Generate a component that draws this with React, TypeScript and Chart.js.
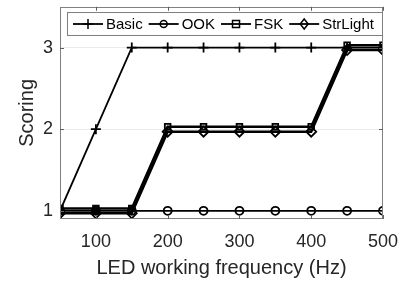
import React, { useEffect, useRef } from "react";
import { Chart, registerables } from "chart.js";

Chart.register(...registerables);

const freqs = [50, 100, 150, 200, 250, 300, 350, 400, 450, 500];
const basic = [1, 2, 3, 3, 3, 3, 3, 3, 3, 3];
const ook = [1, 1, 1, 1, 1, 1, 1, 1, 1, 1];
const fsk = [1.03, 1.03, 1.03, 2.03, 2.03, 2.03, 2.03, 2.03, 3.03, 3.03];
const strLight = [0.97, 0.97, 0.97, 1.97, 1.97, 1.97, 1.97, 1.97, 2.97, 2.97];
const seriesNames = ["Basic", "OOK", "FSK", "StrLight"];
const xTicks = [100, 200, 300, 400, 500];
const yTicks = [1, 2, 3];

const FONT = "'Liberation Sans', Arial, Helvetica, sans-serif";
const BOX = "#808080";

function drawMarker(ctx: CanvasRenderingContext2D, style: string, x: number, y: number, r: number) {
  ctx.beginPath();
  if (style === "cross") {
    ctx.moveTo(x - r, y); ctx.lineTo(x + r, y);
    ctx.moveTo(x, y - r); ctx.lineTo(x, y + r);
  } else if (style === "circle") {
    ctx.arc(x, y, r, 0, Math.PI * 2);
  } else if (style === "rect") {
    ctx.rect(x - r, y - r, 2 * r, 2 * r);
  } else if (style === "rectRot") {
    ctx.moveTo(x, y - r); ctx.lineTo(x + r * 0.8, y); ctx.lineTo(x, y + r); ctx.lineTo(x - r * 0.8, y); ctx.closePath();
  }
  ctx.stroke();
}

const frame = {
  id: "frame",
  afterDatasetsDraw(chart: any) {
    const { ctx, chartArea: a, scales } = chart;
    ctx.save();
    ctx.strokeStyle = BOX;
    ctx.lineWidth = 1;
    ctx.strokeRect(Math.round(a.left) + 0.5, Math.round(a.top) + 0.5, Math.round(a.right - a.left) - 1, Math.round(a.bottom - a.top) - 1);
    ctx.strokeStyle = "#606060";
    ctx.beginPath();
    for (const v of xTicks) {
      const px = Math.round(scales.x.getPixelForValue(v)) + 0.5;
      ctx.moveTo(px, a.bottom); ctx.lineTo(px, a.bottom - 4);
      ctx.moveTo(px, a.top); ctx.lineTo(px, a.top + 4);
    }
    for (const v of yTicks) {
      const py = Math.round(scales.y.getPixelForValue(v)) + 0.5;
      ctx.moveTo(a.left, py); ctx.lineTo(a.left + 4, py);
      ctx.moveTo(a.right, py); ctx.lineTo(a.right - 4, py);
    }
    ctx.stroke();

    const lx = 67, ly = 12, lw = 316, lh = 24;
    ctx.fillStyle = "#ffffff";
    ctx.fillRect(lx, ly, lw, lh);
    ctx.strokeStyle = BOX;
    ctx.strokeRect(lx + 0.5, ly + 0.5, lw - 1, lh - 1);
    ctx.font = `15px ${FONT}`;
    ctx.textBaseline = "middle";
    ctx.textAlign = "left";
    const styles = ["cross", "circle", "rect", "rectRot"];
    const radii = [5, 3.5, 3.5, 5];
    let x = lx + 6;
    const cy = ly + lh / 2;
    seriesNames.forEach((name, i) => {
      ctx.strokeStyle = "#000";
      ctx.lineWidth = 1.8;
      ctx.beginPath();
      ctx.moveTo(x, cy); ctx.lineTo(x + 30, cy);
      ctx.stroke();
      ctx.lineWidth = 1.5;
      drawMarker(ctx, styles[i], x + 15, cy, radii[i]);
      ctx.fillStyle = "#000";
      ctx.fillText(name, x + 33, cy + 1);
      x += 33 + ctx.measureText(name).width + 6;
    });
    ctx.restore();
  },
};

export default function App() {
  const ref = useRef<HTMLCanvasElement>(null);
  useEffect(() => {
    if (!ref.current) return;
    const mk = (label: string, data: number[], style: string, r: number, w: number) => ({
      label,
      data: freqs.map((f, i) => ({ x: f, y: data[i] })),
      borderColor: "#000",
      backgroundColor: "rgba(0,0,0,0)",
      borderWidth: w,
      pointStyle: style,
      pointRadius: r,
      pointBorderColor: "#000",
      pointBackgroundColor: "rgba(0,0,0,0)",
      pointBorderWidth: 1.8,
      tension: 0,
    });
    const chart = new Chart(ref.current, {
      type: "line",
      data: {
        datasets: [
          mk("StrLight", strLight, "rectRot", 5, 2.5),
          mk("FSK", fsk, "rect", 4, 2.5),
          mk("OOK", ook, "circle", 4, 1.8),
          mk("Basic", basic, "cross", 5, 1.8),
        ] as any,
      },
      options: {
        animation: false,
        responsive: false,
        devicePixelRatio: 1,
        layout: { padding: { top: 5, right: 18, left: 0, bottom: 0 } },
        plugins: { legend: { display: false }, tooltip: { enabled: false } },
        scales: {
          x: {
            type: "linear",
            min: 50,
            max: 500,
            afterFit: (s: any) => { s.height = 64; s.paddingLeft = 0; s.paddingRight = 0; s.paddingTop = 0; s.paddingBottom = 0; },
            afterBuildTicks: (s: any) => { s.ticks = xTicks.map((v) => ({ value: v })); },
            grid: { display: false, drawTicks: false },
            border: { display: false },
            ticks: { padding: 12, color: "#262626", font: { family: FONT, size: 18 }, maxRotation: 0, autoSkip: false },
            title: { display: true, text: "LED working frequency (Hz)", color: "#262626", font: { family: FONT, size: 20 }, padding: { top: 0, bottom: 3 } },
          },
          y: {
            type: "linear",
            min: 0.9,
            max: 3.5,
            afterFit: (s: any) => { s.width = 60; s.paddingTop = 0; s.paddingBottom = 0; s.paddingLeft = 0; s.paddingRight = 0; },
            afterBuildTicks: (s: any) => { s.ticks = yTicks.map((v) => ({ value: v })); },
            grid: { color: "#ebebeb", lineWidth: 1, drawTicks: false },
            border: { display: false },
            ticks: { padding: 7, color: "#262626", font: { family: FONT, size: 18 } },
            title: { display: true, text: "Scoring", color: "#262626", font: { family: FONT, size: 20 }, padding: { top: 15, bottom: 0 } },
          },
        },
      },
      plugins: [frame],
    });
    return () => chart.destroy();
  }, []);
  return (
    <div style={{ position: "fixed", left: 0, top: 0, width: 401, height: 283, background: "#fff" }}>
      <canvas ref={ref} width={401} height={283} />
    </div>
  );
}
